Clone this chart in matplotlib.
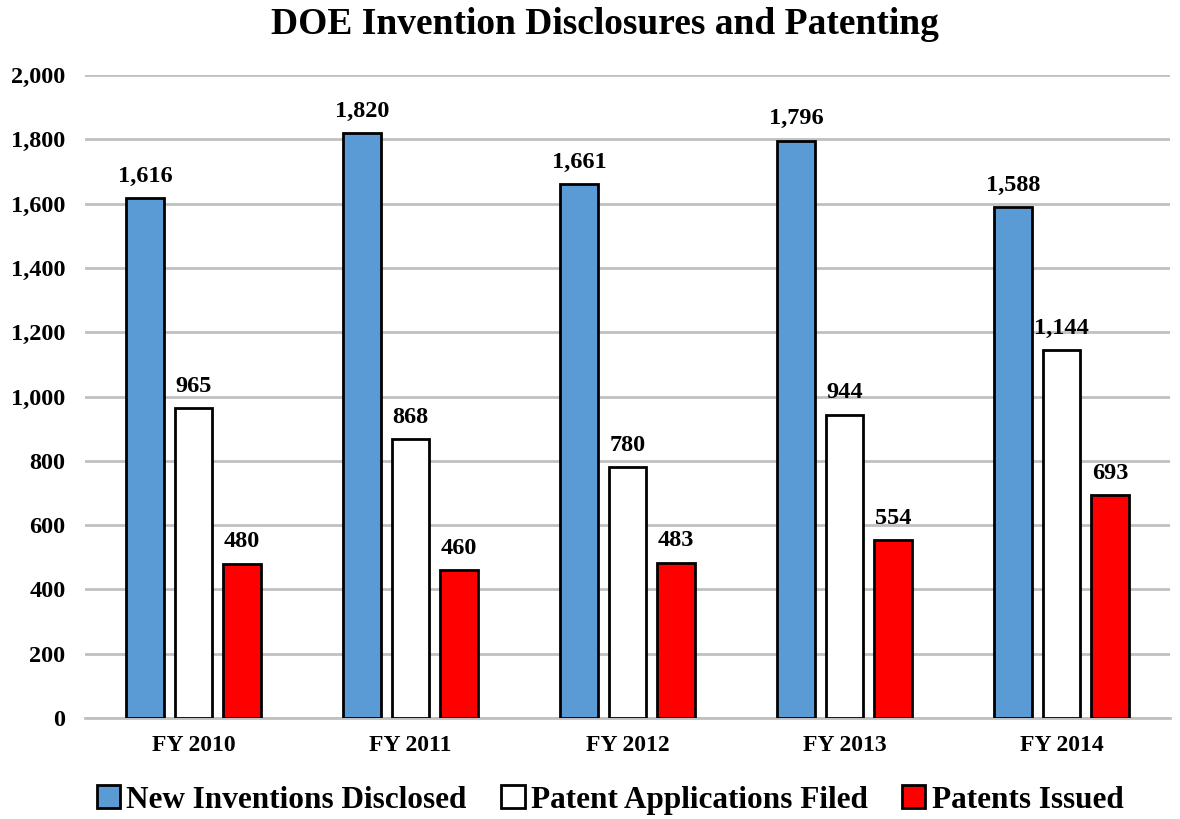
import matplotlib
matplotlib.use("Agg")
import matplotlib.pyplot as plt
import numpy as np

categories = ["FY 2010", "FY 2011", "FY 2012", "FY 2013", "FY 2014"]
series_names = ["New Inventions Disclosed", "Patent Applications Filed", "Patents Issued"]
disclosed = [1616, 1820, 1661, 1796, 1588]
applications = [965, 868, 780, 944, 1144]
issued = [480, 460, 483, 554, 693]
colors = ["#5B9BD5", "#FFFFFF", "#FF0000"]

plt.rcParams['font.family'] = ['Liberation Serif', 'DejaVu Serif']
plt.rcParams['font.weight'] = 'bold'

fig = plt.figure(figsize=(11.8, 8.19), dpi=100)
ax = fig.add_axes([85/1180, 1-718/819, 1085/1180, (718-75)/819])

x = np.arange(len(categories))
w = 0.175
offs = [-0.223, 0, 0.223]
for vals, off, c, name in zip([disclosed, applications, issued], offs, colors, series_names):
    bars = ax.bar(x + off, vals, width=w, color=c, edgecolor="black", linewidth=2, label=name, zorder=3)
    for b, v in zip(bars, vals):
        ax.text(b.get_x() + b.get_width()/2, v + 35, f"{v:,}", ha="center", va="bottom",
                fontsize=17.5, fontweight="bold")

ax.set_xlim(-0.5, len(categories) - 0.5)
ax.set_ylim(0, 2000)
ax.set_yticks(np.arange(0, 2001, 200))
ax.set_yticklabels([f"{v:,}" for v in range(0, 2001, 200)], fontsize=17.5, fontweight="bold")
ax.set_xticks(x)
ax.set_xticklabels(categories, fontsize=17, fontweight="bold")
ax.tick_params(axis="both", length=0)
ax.tick_params(axis="y", pad=14)
ax.tick_params(axis="x", pad=12)
ax.yaxis.grid(True, color="#C0C0C0", linewidth=2, zorder=0)
ax.set_axisbelow(True)
for s in ["top", "right", "left"]:
    ax.spines[s].set_visible(False)
ax.spines["bottom"].set_color("#C0C0C0")
ax.spines["bottom"].set_linewidth(2)

fig.text(0.513, 1-25/819, "DOE Invention Disclosures and Patenting", ha="center", va="center",
         fontsize=27, fontweight="bold")

leg = fig.legend(loc="center", bbox_to_anchor=(0.517, 1-800/819), ncol=3, frameon=False,
                 prop={'size': 22.5, 'weight': 'bold'}, handlelength=0.75, handleheight=0.75,
                 handletextpad=0.2, columnspacing=1.1)

fig.savefig("out.png", dpi=100)
